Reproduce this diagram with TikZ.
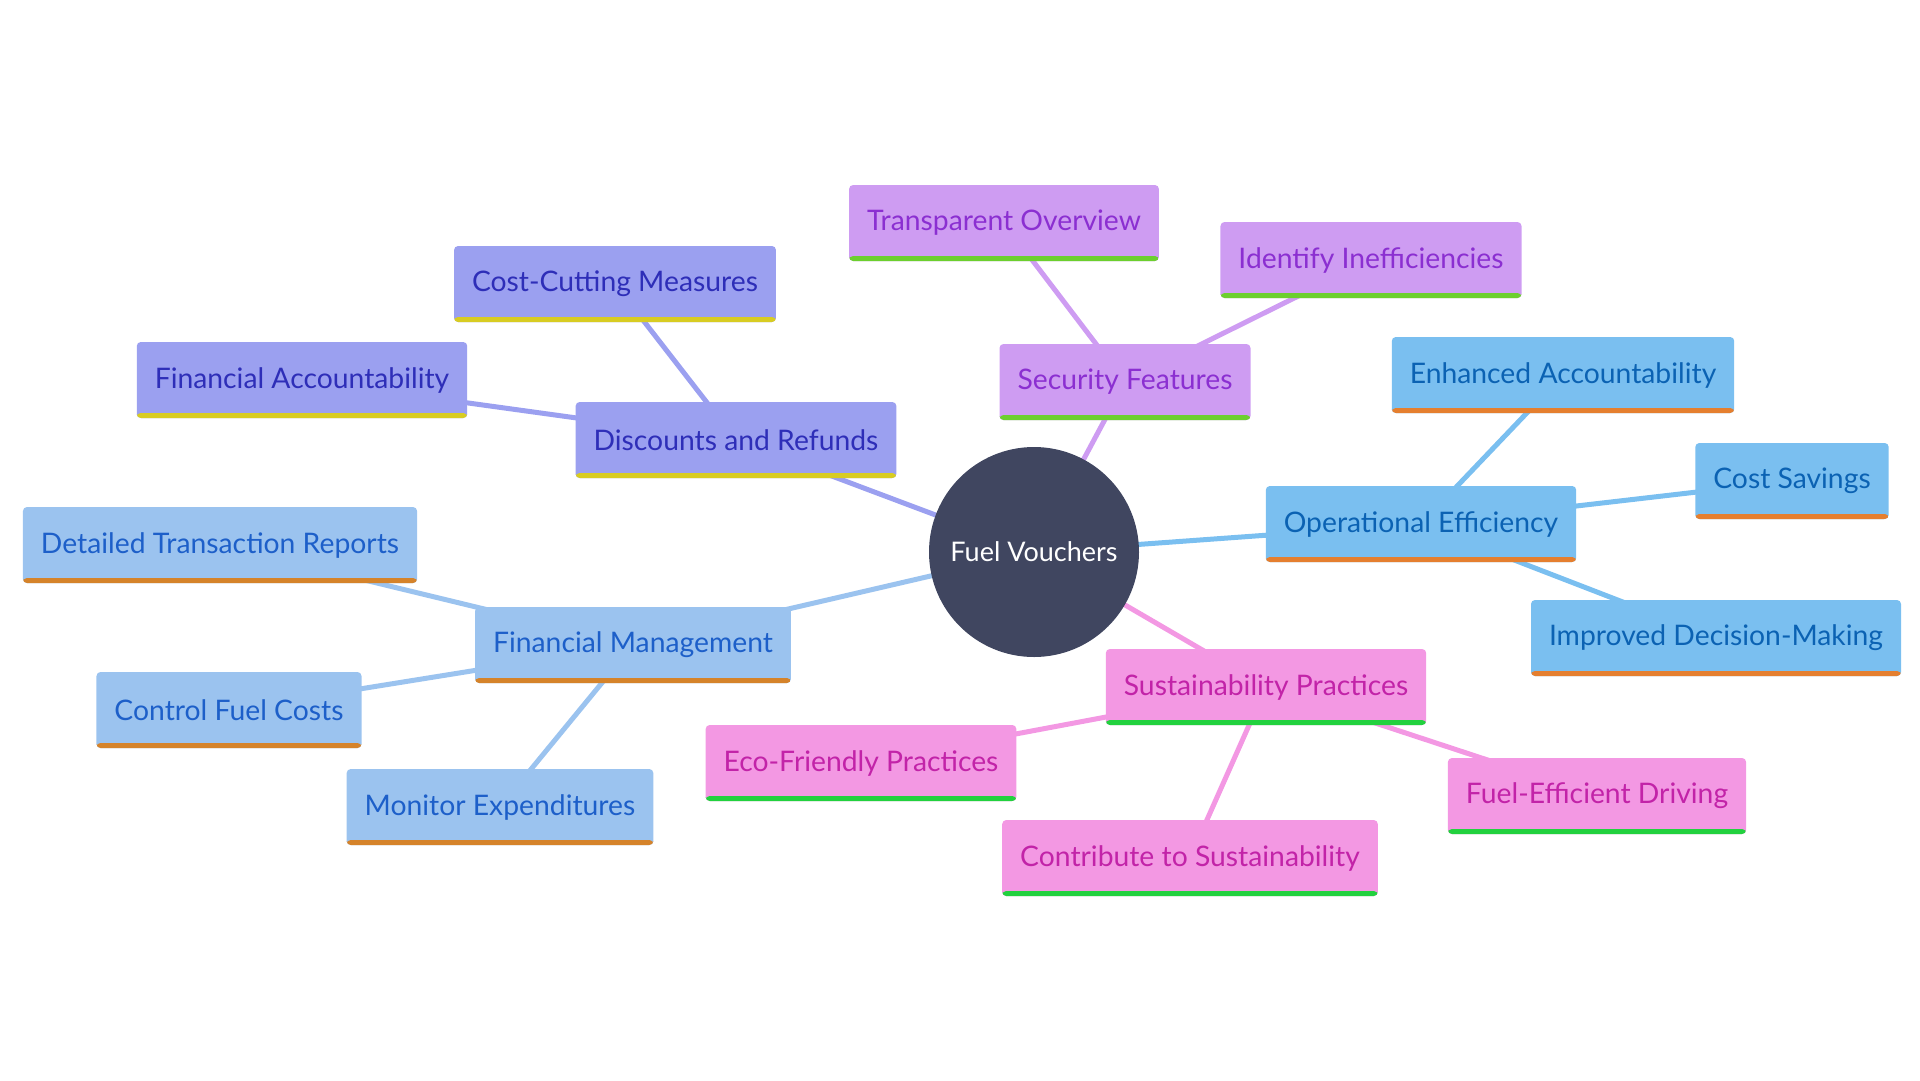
\documentclass[tikz,border=0pt]{standalone}
\usepackage{fontspec}
\setmainfont{Lato}
\usepackage{tikz}
\usetikzlibrary{backgrounds}

\definecolor{hubfill}{HTML}{404660}
\definecolor{discfill}{HTML}{9BA0F0}
\definecolor{disctext}{HTML}{2E2EB8}
\definecolor{discline}{HTML}{D8CC22}
\definecolor{secufill}{HTML}{CE9CF2}
\definecolor{secutext}{HTML}{8B2FD1}
\definecolor{seculine}{HTML}{6CCF2E}
\definecolor{operfill}{HTML}{7ABFF0}
\definecolor{opertext}{HTML}{0B62B3}
\definecolor{operline}{HTML}{E57F2F}
\definecolor{sustfill}{HTML}{F398E3}
\definecolor{susttext}{HTML}{C223A8}
\definecolor{sustline}{HTML}{22D13E}
\definecolor{finafill}{HTML}{9BC3EF}
\definecolor{finatext}{HTML}{1D5FC9}
\definecolor{finaline}{HTML}{D5832A}

\tikzset{
  hub/.style={circle, fill=hubfill, text=white, minimum size=210pt, inner sep=0pt,
    font=\fontsize{27}{32}\selectfont},
  box/.style={rectangle, rounded corners=4pt, minimum height=76pt, inner xsep=18pt,
    font=\fontsize{28.3}{33}\selectfont,
    path picture={\fill[#1] (path picture bounding box.south west) rectangle
      ([yshift=5pt]path picture bounding box.south east);}},
  disc/.style={box=discline, fill=discfill, text=disctext},
  secu/.style={box=seculine, fill=secufill, text=secutext},
  oper/.style={box=operline, fill=operfill, text=opertext},
  sust/.style={box=sustline, fill=sustfill, text=susttext},
  fina/.style={box=finaline, fill=finafill, text=finatext},
  link/.style={draw=#1, line width=5pt}
}

\begin{document}
\begin{tikzpicture}[x=1pt, y=-1pt]
\useasboundingbox (0,0) rectangle (1920,1080);

\node[hub] (fuel) at (1034,552) {Fuel Vouchers};

\node[disc] (refunds) at (736,440) {Discounts and Refunds};
\node[disc] (cutting) at (615,284) {Cost-Cutting Measures};
\node[disc] (finacc) at (302,380) {Financial Accountability};

\node[secu] (security) at (1125,382) {Security Features};
\node[secu] (overview) at (1004,223) {Transparent Overview};
\node[secu] (ineff) at (1371,260) {Identify Inefficiencies};

\node[oper] (operef) at (1421,524) {Operational Efficiency};
\node[oper] (enhanced) at (1563,375) {Enhanced Accountability};
\node[oper] (savings) at (1792,481) {Cost Savings};
\node[oper] (decision) at (1716,638) {Improved Decision-Making};

\node[sust] (sustain) at (1266,687) {Sustainability Practices};
\node[sust] (eco) at (861,763) {Eco-Friendly Practices};
\node[sust] (contrib) at (1190,858) {Contribute to Sustainability};
\node[sust] (driving) at (1597,796) {Fuel-Efficient Driving};

\node[fina] (finman) at (633,645) {Financial Management};
\node[fina] (reports) at (220,545) {Detailed Transaction Reports};
\node[fina] (control) at (229,710) {Control Fuel Costs};
\node[fina] (monitor) at (500,807) {Monitor Expenditures};

\begin{pgfonlayer}{background}
\draw[link=discfill] (fuel.center) -- (refunds.center);
\draw[link=discfill] (refunds.center) -- (cutting.center);
\draw[link=discfill] (refunds.center) -- (finacc.center);
\draw[link=secufill] (fuel.center) -- (security.center);
\draw[link=secufill] (security.center) -- (overview.center);
\draw[link=secufill] (security.center) -- (ineff.center);
\draw[link=operfill] (fuel.center) -- (operef.center);
\draw[link=operfill] (operef.center) -- (enhanced.center);
\draw[link=operfill] (operef.center) -- (savings.center);
\draw[link=operfill] (operef.center) -- (decision.center);
\draw[link=sustfill] (fuel.center) -- (sustain.center);
\draw[link=sustfill] (sustain.center) -- (eco.center);
\draw[link=sustfill] (sustain.center) -- (contrib.center);
\draw[link=sustfill] (sustain.center) -- (driving.center);
\draw[link=finafill] (fuel.center) -- (finman.center);
\draw[link=finafill] (finman.center) -- (reports.center);
\draw[link=finafill] (finman.center) -- (control.center);
\draw[link=finafill] (finman.center) -- (monitor.center);
\end{pgfonlayer}
\end{tikzpicture}
\end{document}
